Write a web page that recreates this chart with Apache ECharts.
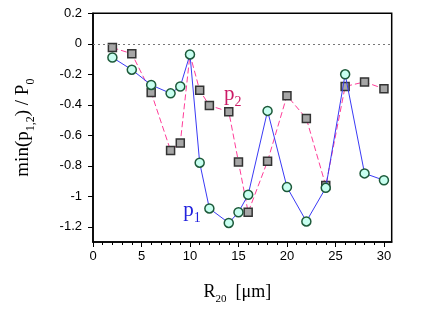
<!DOCTYPE html>
<html>
<head>
<meta charset="utf-8">
<script src="https://cdn.jsdelivr.net/npm/echarts@6/dist/echarts.min.js"></script>
<style>html,body{margin:0;padding:0;background:#fff}#c{width:425px;height:310px}</style>
</head>
<body>
<div id="c"></div>
<script>
var xValues = [2, 4, 6, 8, 9, 10, 11, 12, 14, 15, 16, 18, 20, 22, 24, 26, 28, 30];
var p1Values = [-0.09, -0.17, -0.27, -0.325, -0.28, -0.07, -0.78, -1.08, -1.175, -1.105, -0.99, -0.44, -0.94, -1.165, -0.945, -0.2, -0.85, -0.895];
var p2Values = [-0.025, -0.065, -0.32, -0.70, -0.65, -0.07, -0.305, -0.405, -0.445, -0.775, -1.105, -0.77, -0.34, -0.49, -0.93, -0.28, -0.25, -0.295];
var yTickValues = [0.2, 0, -0.2, -0.4, -0.6, -0.8, -1, -1.2];
var xMajorTicks = [0, 5, 10, 15, 20, 25, 30];
var xMinorTicks = [0,1,2,3,4,5,6,7,8,9,10,11,12,13,14,15,16,17,18,19,20,21,22,23,24,25,26,27,28,29,30];

var p1Data = xValues.map(function (x, i) { return [x, p1Values[i]]; });
var p2Data = xValues.map(function (x, i) {
  // where both curves coincide, the square lies hidden under the circle
  if (p2Values[i] === p1Values[i]) return {value: [x, p2Values[i]], symbol: 'none'};
  return [x, p2Values[i]];
});

var serif = 'Liberation Serif';
var sans = 'Liberation Sans';

var chart = echarts.init(document.getElementById('c'), null, {renderer: 'canvas'});
chart.setOption({
  animation: false,
  backgroundColor: '#fff',
  grid: {left: 93, top: 13.3, right: 33.3, bottom: 64, show: true, borderColor: '#000', borderWidth: 1.5, backgroundColor: 'transparent'},
  xAxis: [{
    type: 'value', min: 0, max: 30.8,
    axisLine: {show: true, onZero: false, lineStyle: {color: '#000', width: 1.5}},
    axisTick: {show: true, length: 5, customValues: xMajorTicks, lineStyle: {color: '#000', width: 1}},
    axisLabel: {customValues: xMajorTicks, margin: 8, color: '#000', fontFamily: sans, fontSize: 13},
    splitLine: {show: false},
    name: '{a|R}{s|20}{a|  [\u03bcm]}',
    nameLocation: 'middle', nameGap: 37,
    nameTextStyle: {padding: [0, 10, 0, 0], rich: {
      a: {fontFamily: serif, fontSize: 18, color: '#000', lineHeight: 22, verticalAlign: 'bottom'},
      s: {fontFamily: serif, fontSize: 11, color: '#000', lineHeight: 22, verticalAlign: 'bottom', padding: [0, 0, -4, 0]}
    }}
  }, {
    type: 'value', min: 0, max: 30.8, position: 'bottom',
    axisLine: {show: false, onZero: false},
    axisTick: {show: true, length: 3, customValues: xMinorTicks, lineStyle: {color: '#000', width: 1}},
    axisLabel: {show: false},
    splitLine: {show: false}
  }],
  yAxis: [{
    type: 'value', min: -1.3, max: 0.2,
    axisLine: {show: true, onZero: false, lineStyle: {color: '#000', width: 1.5}},
    axisTick: {show: true, length: 5, customValues: yTickValues, lineStyle: {color: '#000', width: 1}},
    axisLabel: {customValues: yTickValues, margin: 11, color: '#000', fontFamily: sans, fontSize: 13},
    splitLine: {show: false},
    name: '{a|min(p}{s|1,2}{a|) / P}{s|0}',
    nameLocation: 'middle', nameGap: 60, nameRotate: 90,
    nameTextStyle: {rich: {
      a: {fontFamily: serif, fontSize: 19, color: '#000', lineHeight: 22, verticalAlign: 'bottom'},
      s: {fontFamily: serif, fontSize: 12, color: '#000', lineHeight: 22, verticalAlign: 'bottom', padding: [0, 0, -4, 0]}
    }}
  }],
  series: [{
    name: 'p2', type: 'line', data: p2Data, z: 2,
    symbol: 'rect', symbolSize: 8,
    lineStyle: {color: '#ff3d99', width: 1, type: [6, 3]},
    itemStyle: {color: '#a6a6a6', borderColor: '#333', borderWidth: 1.5},
    markLine: {
      silent: true, symbol: 'none', label: {show: false},
      lineStyle: {color: '#777', type: [2, 3], width: 1},
      data: [{yAxis: 0}]
    },
    markPoint: {
      symbol: 'circle', symbolSize: 1, itemStyle: {color: 'transparent'},
      label: {show: true, position: 'inside', formatter: '{a|p}{s|2}', rich: {
        a: {fontFamily: serif, fontSize: 21, color: '#cc1a66', lineHeight: 22, verticalAlign: 'bottom'},
        s: {fontFamily: serif, fontSize: 14, color: '#cc1a66', lineHeight: 22, verticalAlign: 'bottom', padding: [0, 0, -4, 0]}
      }},
      data: [{coord: [14.4, -0.33]}]
    }
  }, {
    name: 'p1', type: 'line', data: p1Data, z: 3,
    symbol: 'circle', symbolSize: 9,
    lineStyle: {color: '#3a3af5', width: 1},
    itemStyle: {color: '#c8fff0', borderColor: '#1d5a3a', borderWidth: 1.5},
    markPoint: {
      symbol: 'circle', symbolSize: 1, itemStyle: {color: 'transparent'},
      label: {show: true, position: 'inside', formatter: '{a|p}{s|1}', rich: {
        a: {fontFamily: serif, fontSize: 21, color: '#2222dd', lineHeight: 22, verticalAlign: 'bottom'},
        s: {fontFamily: serif, fontSize: 14, color: '#2222dd', lineHeight: 22, verticalAlign: 'bottom', padding: [0, 0, -4, 0]}
      }},
      data: [{coord: [10.2, -1.09]}]
    }
  }]
});
</script>
</body>
</html>
